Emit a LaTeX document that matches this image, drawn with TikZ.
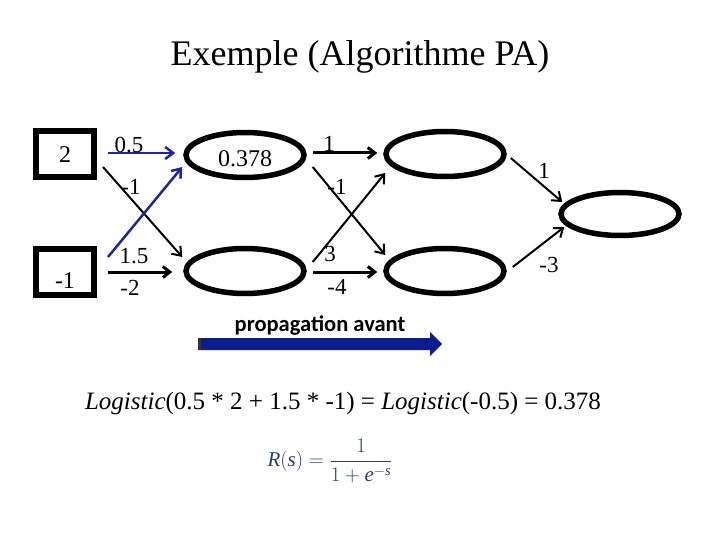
\documentclass[tikz,border=0pt]{standalone}
\usepackage{amsmath}
\usepackage{fontspec}
\setmainfont{Liberation Serif}
\newfontfamily\calib{Carlito}
\usetikzlibrary{shapes.geometric,arrows.meta}
\definecolor{pablue}{RGB}{28,40,150}
\definecolor{barblue}{RGB}{12,28,140}
\definecolor{formblue}{RGB}{40,62,112}
\tikzset{
  inbox/.style={draw,line width=6pt,rectangle,minimum width=58pt,minimum height=46pt,inner sep=0pt,font=\fontsize{24}{26}\selectfont,text height=17pt,text depth=0pt},
  neuron/.style={draw,line width=5.5pt,ellipse,minimum width=118pt,minimum height=45pt,inner sep=0pt,font=\fontsize{24}{26}\selectfont},
  wire/.style={line width=2pt,-{Straight Barb[length=8pt,width=12pt]}},
  hwire/.style={line width=3pt,-{Straight Barb[length=7pt,width=11pt]}},
  bwire/.style={wire,draw=pablue,line width=2.5pt},
  wlabel/.style={font=\fontsize{23}{25}\selectfont,inner sep=0pt}
}
\begin{document}
\begin{tikzpicture}[x=1pt,y=-1pt]
\useasboundingbox (0,0) rectangle (720,540);
\node (title) at (360,57) {\fontsize{36}{40}\selectfont Exemple (Algorithme PA)};

\node[inbox] (i1) at (65,154) {2};
\node[inbox,text height=32pt] (i2) at (65,272) {-1};
\node[neuron,text height=23pt,text depth=0pt] (h1) at (245,155) {0.378};
\node[neuron] (h2) at (245,271) {};
\node[neuron] (h3) at (445,154) {};
\node[neuron] (h4) at (445,271) {};
\node[neuron,minimum height=43pt] (o) at (620,214) {};

% layer 1
\draw[bwire] ([xshift=11pt,yshift=1pt]i1.east) -- ([xshift=-8pt,yshift=2pt]h1.west);
\draw[wire] ([xshift=6pt,yshift=-13pt]i1.east) -- ([xshift=-1pt,yshift=14pt]h2.west);
\draw[bwire] ([xshift=11pt,yshift=15pt]i2.east) -- ([xshift=-1pt,yshift=-12pt]h1.west);
\draw[hwire] ([xshift=11pt]i2.east) -- ([xshift=-11pt,yshift=-1pt]h2.west);

\node[wlabel] (l1) at (129,145) {0.5};
\node[wlabel] (l2) at (131,187) {-1};
\node[wlabel] (l3) at (134,256) {1.5};
\node[wlabel] (l4) at (130,288) {-2};

% layer 2
\draw[hwire] ([xshift=6pt,yshift=2pt]h1.east) -- ([xshift=-6pt,yshift=1pt]h3.west);
\draw[wire] ([xshift=6pt,yshift=-12pt]h1.east) -- ([xshift=2pt,yshift=16pt]h4.west);
\draw[wire] ([xshift=6pt,yshift=9pt]h2.east) -- ([xshift=2pt,yshift=-19pt]h3.west);
\draw[hwire] ([xshift=6pt,yshift=-1pt]h2.east) -- ([xshift=-6pt,yshift=-1pt]h4.west);

\node[wlabel] (m1) at (329,144) {1};
\node[wlabel] (m2) at (337,187) {-1};
\node[wlabel] (m3) at (330,254) {3};
\node[wlabel] (m4) at (337,287) {-4};

% output
\draw[wire] ([xshift=4pt,yshift=-4pt]h3.east) -- ([xshift=4pt,yshift=12pt]o.west);
\draw[wire] ([xshift=6pt,yshift=4pt]h4.east) -- ([xshift=6pt,yshift=-13pt]o.west);
\node[wlabel] (n1) at (544,171) {1};
\node[wlabel] (n2) at (549,265) {-3};

% propagation arrow
\node[font=\calib\bfseries\fontsize{22.5}{24}\selectfont,inner sep=0pt] (prop) at (320,325) {propagation avant};
\fill[barblue] (198,338) -- (430,338) -- (430,332) -- (442,344) -- (430,356) -- (430,350) -- (198,350) -- cycle;
\fill[black!80] (198,338) rectangle (201,350);

% formulas
\node[font=\fontsize{25}{28}\selectfont,inner sep=0pt] (eq) at (343,403) {\textit{Logistic}(0.5 * 2 + 1.5 * -1) = \textit{Logistic}(-0.5) = 0.378};
\node[text=formblue,font=\fontsize{21}{24}\selectfont,inner sep=0pt] (rs) at (330,461) {$\displaystyle \textit{R}(\textit{s})=\frac{1}{1+\textit{e}^{-\textit{s}}}$};
\end{tikzpicture}
\end{document}
